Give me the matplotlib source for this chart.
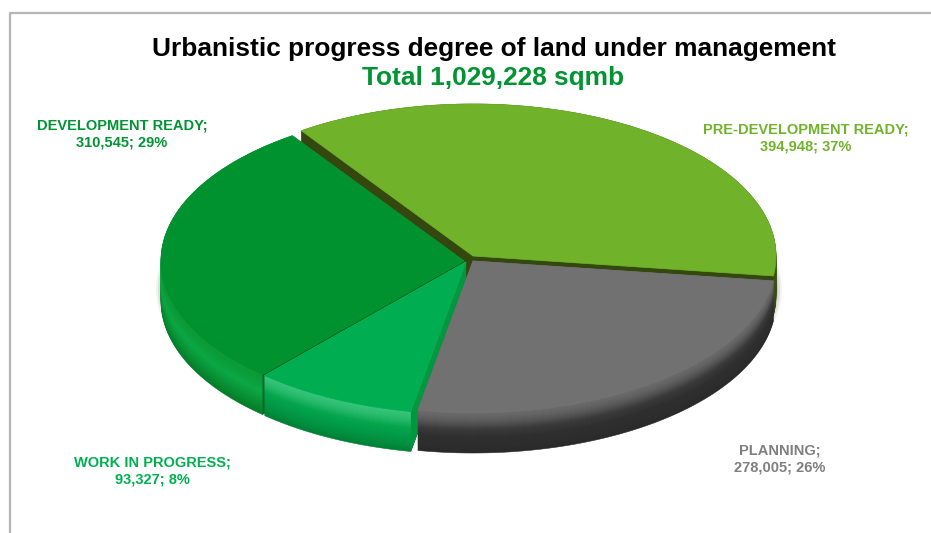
import numpy as np
import matplotlib
matplotlib.use("Agg")
import matplotlib.pyplot as plt
from matplotlib.colors import to_rgb
from matplotlib.patches import Ellipse, Polygon

categories = ['PRE-DEVELOPMENT READY', 'PLANNING', 'WORK IN PROGRESS', 'DEVELOPMENT READY']
values = [394948, 278005, 93327, 310545]
percents = [37, 26, 8, 29]
title = 'Urbanistic progress degree of land under management'
subtitle = 'Total 1,029,228 sqmb'

top_colors = ['#70b32a', '#717171', '#00ad50', '#00922f']
text_colors = ['#70b32a', '#7f7f7f', '#00b050', '#009432']
# rim gradient from the top edge of the wall to the bottom
wall_colors = [['#3c5512', '#34470f'],
               ['#6a6a6a', '#3a3a3a', '#2e2e2e', '#2d2d2d', '#2a2a2a'],
               ['#36c47a', '#05a54d', '#019a47', '#018f3f', '#017f35'],
               ['#0a9a36', '#0ba845', '#09983a', '#078a30', '#067a2a']]
side_colors = ['#34470f', '#2e2e2e', '#00973f', '#05661f']
offsets = [(4, -3), (4, 2), (-3, 3), (-5, 2)]
label_pos = [(806, 138), (780, 459), (152, 471), (122, 134)]

cx, cy = 469, 259
rx, ry = 303, 152
depth = 40
start = 124.5

fig = plt.figure(figsize=(9.31, 5.33), dpi=100)
ax = fig.add_axes([0, 0, 1, 1])
ax.set_xlim(0, 931)
ax.set_ylim(533, 0)
ax.axis('off')
plt.rcParams['font.family'] = ['Liberation Sans', 'DejaVu Sans']

# outer frame, open at the right and bottom
ax.plot([10, 10, 931], [533, 13, 13], color='#b5b5b5', lw=1.6, zorder=1)

# soft shadow behind the sides of the pie
for grow, alpha in zip([10, 8, 6, 4], [0.05, 0.08, 0.12, 0.16]):
    ax.add_patch(Ellipse((cx, cy + 30), 2 * (rx + grow), 2 * (ry - 4), fc='black', ec='none',
                         alpha=alpha, zorder=1))


def slice_outline(a0, a1, dx, dy):
    t = np.radians(np.linspace(a0, a1, 160))
    xs = cx + dx + rx * np.cos(t)
    ys = cy + dy - ry * np.sin(t)
    return np.r_[cx + dx, xs], np.r_[cy + dy, ys]


def gradient(stops, n):
    rgb = np.array([to_rgb(c) for c in stops])
    pos = np.linspace(0, 1, len(rgb))
    # the first stops are squeezed into the upper edge of the wall
    u = np.linspace(0, 1, n) ** 1.6
    return [tuple(np.interp(v, pos, rgb[:, k]) for k in range(3)) for v in u]


sweeps = np.array(values) / sum(values) * 360
ends = start - np.cumsum(sweeps)
begins = np.r_[start, ends[:-1]]

# back to front: pre-development, development, work in progress, planning
z = 2
for i in [0, 3, 2, 1]:
    dx, dy = offsets[i]
    xs, ys = slice_outline(begins[i], ends[i], dx, dy)

    # stacked copies going up the wall give the rim its shading
    n = depth + 1
    shades = gradient(wall_colors[i], n)
    for d, col in zip(range(depth, -1, -1), shades[::-1]):
        ax.add_patch(Polygon(np.c_[xs, ys + d], closed=True, fc=col, ec=col, lw=0.4, zorder=z))

    # cut faces of the slice: index 1 is the clockwise-start edge, -1 the end edge
    for k in [1, -1]:
        face = [(xs[0], ys[0]), (xs[k], ys[k]), (xs[k], ys[k] + depth), (xs[0], ys[0] + depth)]
        if i == 0 or (i in (2, 3) and k == 1):
            ax.add_patch(Polygon(face, closed=True, fc=side_colors[i], ec='none', zorder=z + 0.1))

    ax.add_patch(Polygon(np.c_[xs, ys], closed=True, fc=top_colors[i], ec=top_colors[i], lw=0.5,
                         zorder=z + 0.2))
    z += 1

ax.text(493.5, 49, title, ha='center', va='center', fontsize=18.95, fontweight='bold',
        color='black', zorder=10)
ax.text(493.5, 78, subtitle, ha='center', va='center', fontsize=18.95, fontweight='bold',
        color='#009432', zorder=10)

for name, val, pct, col, (lx, ly) in zip(categories, values, percents, text_colors, label_pos):
    ax.text(lx, ly, f'{name};\n{val:,}; {pct}%', ha='center', va='center', fontsize=10.5,
            fontweight='bold', color=col, linespacing=1.3, zorder=10)

fig.savefig('out.png', dpi=100)
